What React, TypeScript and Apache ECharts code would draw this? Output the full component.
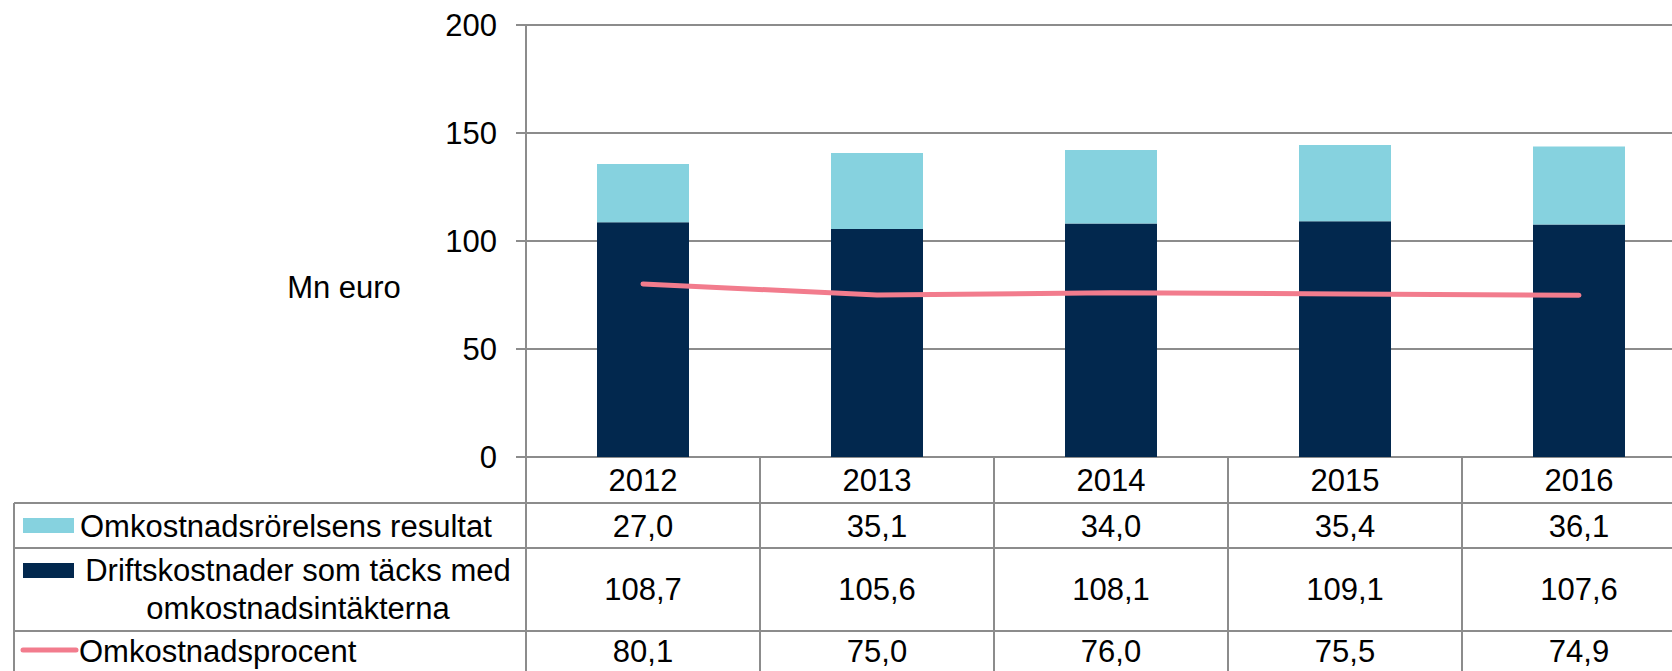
import React, { useEffect, useRef } from "react";
import * as echarts from "echarts";

const years = ["2012", "2013", "2014", "2015", "2016"];
const resultat = [27.0, 35.1, 34.0, 35.4, 36.1];
const driftskostnader = [108.7, 105.6, 108.1, 109.1, 107.6];
const procent = [80.1, 75.0, 76.0, 75.5, 74.9];

const nameResultat = "Omkostnadsrörelsens resultat";
const nameDrift = "Driftskostnader som täcks med\nomkostnadsintäkterna";
const nameProcent = "Omkostnadsprocent";
const yAxisTitle = "Mn euro";

const W = 1700;
const H = 671;
const GRID_LEFT = 526;
const GRID_RIGHT = 4;
const GRID_TOP = 25;
const GRID_BOTTOM = 214;

const CYAN = "#86D2DF";
const NAVY = "#02284E";
const PINK = "#F27C8D";
const GRAY = "#8C8C8C";
const FONT = "'Liberation Sans', Arial, sans-serif";
const FS = 31;

const fmt = (v: number) => v.toFixed(1).replace(".", ",");

export default function App() {
  const ref = useRef<HTMLDivElement>(null);
  useEffect(() => {
    if (!ref.current) return;
    const chart = echarts.init(ref.current, undefined, { renderer: "svg" });
    const plotW = W - GRID_LEFT - GRID_RIGHT;
    const colW = plotW / years.length;
    const cx = (i: number) => GRID_LEFT + (i + 0.5) * colW;

    const rowY = { r1: 526, r2: 589, r3: 651 };
    const hLine = (y: number) => ({
      type: "line",
      shape: { x1: 14, y1: y, x2: W, y2: y },
      style: { stroke: GRAY, lineWidth: 2 },
      silent: true,
    });
    const txt = (text: string, x: number, y: number, align: string, extra: any = {}) => ({
      type: "text",
      x,
      y,
      style: {
        text,
        fill: "#000",
        fontSize: FS,
        fontFamily: FONT,
        align,
        verticalAlign: "middle",
        ...extra,
      },
      silent: true,
    });

    const elements: any[] = [
      hLine(503),
      hLine(548),
      hLine(631),
      {
        type: "line",
        shape: { x1: 14, y1: 503, x2: 14, y2: H },
        style: { stroke: GRAY, lineWidth: 2 },
        silent: true,
      },
      { type: "rect", shape: { x: 23, y: 518, width: 51, height: 15 }, style: { fill: CYAN } },
      txt(nameResultat, 80, rowY.r1, "left"),
      { type: "rect", shape: { x: 23, y: 563, width: 51, height: 15 }, style: { fill: NAVY } },
      txt(nameDrift, 298, rowY.r2, "center", { lineHeight: 38 }),
      {
        type: "line",
        shape: { x1: 23, y1: 650, x2: 76, y2: 650 },
        style: { stroke: PINK, lineWidth: 5, lineCap: "round" },
      },
      txt(nameProcent, 79, rowY.r3, "left"),
      txt(yAxisTitle, 344, 287, "center"),
    ];
    years.forEach((_, i) => {
      elements.push(txt(fmt(resultat[i]), cx(i), rowY.r1, "center"));
      elements.push(txt(fmt(driftskostnader[i]), cx(i), rowY.r2, "center"));
      elements.push(txt(fmt(procent[i]), cx(i), rowY.r3, "center"));
    });

    chart.setOption({
      animation: false,
      grid: { left: GRID_LEFT, right: GRID_RIGHT, top: GRID_TOP, bottom: GRID_BOTTOM, containLabel: false },
      xAxis: {
        type: "category",
        data: years,
        boundaryGap: true,
        axisLine: { show: true, lineStyle: { color: GRAY, width: 2 } },
        axisTick: { show: true, length: H - (H - GRID_BOTTOM), lineStyle: { color: GRAY, width: 2 } },
        axisLabel: {
          color: "#000",
          fontSize: FS,
          fontFamily: FONT,
          margin: 8,
          lineHeight: 31,
        },
        splitLine: { show: false },
      },
      yAxis: {
        type: "value",
        min: 0,
        max: 200,
        interval: 50,
        axisLine: { show: true, lineStyle: { color: GRAY, width: 2 } },
        axisTick: { show: true, length: 10, lineStyle: { color: GRAY, width: 2 } },
        axisLabel: { color: "#000", fontSize: FS, fontFamily: FONT, margin: 29 },
        splitLine: { show: true, lineStyle: { color: GRAY, width: 2 } },
      },
      series: [
        {
          name: nameDrift,
          type: "bar",
          stack: "total",
          data: driftskostnader,
          barWidth: 92,
          itemStyle: { color: NAVY },
        },
        {
          name: nameResultat,
          type: "bar",
          stack: "total",
          data: resultat,
          barWidth: 92,
          itemStyle: { color: CYAN },
        },
        {
          name: nameProcent,
          type: "line",
          data: procent,
          symbol: "none",
          lineStyle: { color: PINK, width: 5, cap: "round" },
          z: 5,
        },
      ],
      graphic: { elements },
    });
    return () => chart.dispose();
  }, []);

  return (
    <div style={{ position: "fixed", left: 0, top: 0, width: 1672, height: H, overflow: "hidden", background: "#fff" }}>
      <div ref={ref} style={{ width: W, height: H }} />
    </div>
  );
}
